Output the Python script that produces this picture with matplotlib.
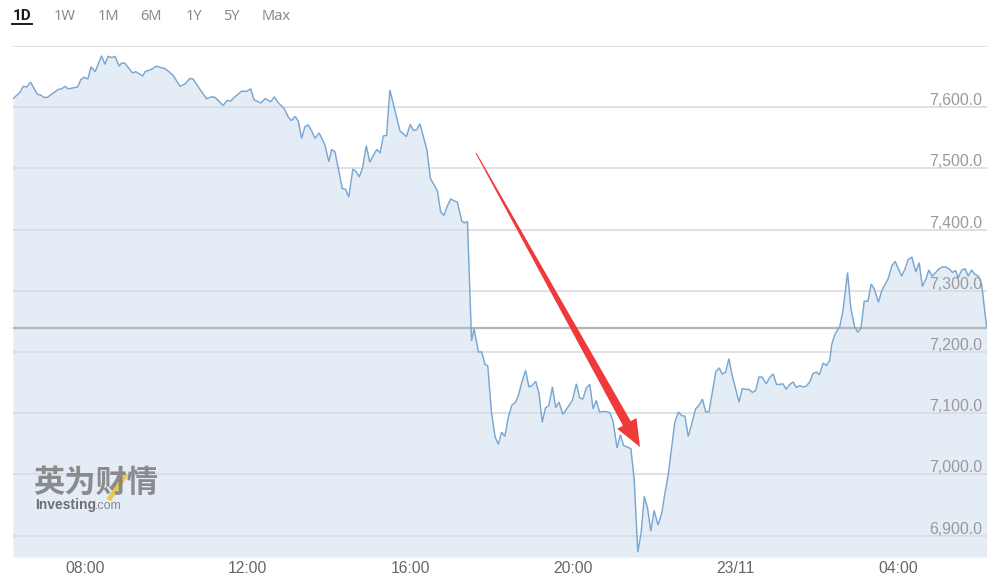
import numpy as np
import matplotlib
matplotlib.use("Agg")
import matplotlib.pyplot as plt
from matplotlib.patches import Polygon
from matplotlib.lines import Line2D

# ---- data (time in hours since 22/11 00:00, price) ----
times = [6.23, 6.40, 6.48, 6.57, 6.66, 6.83, 6.91, 6.99, 7.07, 7.22, 7.34, 7.43, 7.51, 7.59, 7.67,
         7.82, 7.90, 7.98, 8.07, 8.15, 8.25, 8.41, 8.49, 8.57, 8.66, 8.74, 8.84, 8.90, 8.98, 9.17,
         9.25, 9.42, 9.48, 9.64, 9.75, 9.85, 9.97, 10.05, 10.17, 10.34, 10.46, 10.58, 10.66, 10.83,
         10.99, 11.12, 11.20, 11.40, 11.50, 11.58, 11.69, 11.85, 11.98, 12.08, 12.16, 12.33, 12.43,
         12.57, 12.66, 12.76, 12.90, 13.00, 13.08, 13.17, 13.25, 13.33, 13.41, 13.49, 13.58, 13.66,
         13.76, 13.90, 14.00, 14.07, 14.15, 14.23, 14.33, 14.41, 14.49, 14.59, 14.67, 14.75, 14.83,
         14.92, 15.01, 15.09, 15.18, 15.26, 15.34, 15.42, 15.50, 15.58, 15.75, 15.91, 16.00, 16.08,
         16.16, 16.24, 16.41, 16.50, 16.59, 16.67, 16.75, 16.83, 16.91, 17.00, 17.08, 17.16, 17.27,
         17.33, 17.41, 17.51, 17.57, 17.68, 17.76, 17.84, 17.91, 18.00, 18.09, 18.17, 18.25, 18.33,
         18.41, 18.50, 18.58, 18.66, 18.74, 18.84, 18.92, 19.00, 19.09, 19.17, 19.25, 19.33, 19.41,
         19.50, 19.58, 19.66, 19.76, 19.84, 19.99, 20.09, 20.17, 20.25, 20.33, 20.42, 20.50, 20.58,
         20.66, 20.79, 20.91, 20.99, 21.09, 21.17, 21.25, 21.33, 21.43, 21.51, 21.60, 21.68, 21.76,
         21.84, 21.92, 22.00, 22.10, 22.19, 22.27, 22.35, 22.51, 22.60, 22.68, 22.76, 22.84, 22.92,
         23.02, 23.10, 23.19, 23.27, 23.35, 23.43, 23.52, 23.60, 23.68, 23.76, 23.84, 23.92, 24.01,
         24.09, 24.17, 24.25, 24.33, 24.42, 24.50, 24.58, 24.66, 24.76, 24.84, 24.93, 25.01, 25.09,
         25.17, 25.25, 25.34, 25.42, 25.50, 25.58, 25.66, 25.74, 25.83, 25.91, 25.99, 26.07, 26.16,
         26.24, 26.32, 26.37, 26.45, 26.57, 26.65, 26.76, 26.84, 26.93, 27.01, 27.09, 27.17, 27.26,
         27.34, 27.42, 27.52, 27.60, 27.76, 27.85, 27.93, 28.09, 28.17, 28.25, 28.34, 28.44, 28.52,
         28.60, 28.68, 28.76, 28.84, 28.93, 29.01, 29.09, 29.17, 29.26, 29.34, 29.42, 29.48, 29.57,
         29.65, 29.73, 29.81, 29.89, 29.98, 30.06, 30.12, 30.18]
prices = [7614, 7624, 7634, 7633, 7641, 7621, 7620, 7616, 7616, 7623, 7629, 7630, 7634, 7630, 7631,
          7633, 7645, 7649, 7646, 7666, 7658, 7684, 7670, 7683, 7681, 7683, 7667, 7672, 7672, 7656,
          7658, 7651, 7658, 7662, 7667, 7665, 7663, 7659, 7652, 7634, 7638, 7647, 7646, 7629,
          7614, 7617, 7616, 7603, 7611, 7610, 7617, 7626, 7626, 7630, 7612, 7607, 7614,
          7609, 7617, 7607, 7598, 7584, 7578, 7585, 7577, 7549, 7568, 7571, 7561, 7549,
          7558, 7539, 7511, 7531, 7527, 7501, 7467, 7466, 7453, 7499, 7495, 7486, 7501,
          7537, 7510, 7521, 7531, 7525, 7553, 7554, 7628, 7607, 7561, 7552, 7572, 7562,
          7563, 7573, 7531, 7483, 7473, 7463, 7429, 7423, 7438, 7450, 7447, 7445, 7414,
          7411, 7413, 7218, 7238, 7200, 7200, 7180, 7177, 7101, 7061, 7049, 7069, 7062,
          7092, 7113, 7117, 7128, 7149, 7170, 7143, 7145, 7152, 7132, 7085, 7109, 7112,
          7143, 7109, 7118, 7098, 7106, 7121, 7148, 7125, 7123, 7141, 7147, 7107, 7121,
          7102, 7103, 7101, 7087, 7043, 7065, 7047, 7045, 7042, 6992, 6873, 6904, 6964,
          6945, 6907, 6941, 6917, 6937, 6970, 7000, 7085, 7102, 7096, 7095, 7062, 7081,
          7107, 7112, 7123, 7102, 7102, 7133, 7168, 7174, 7164, 7167, 7189, 7162, 7139,
          7118, 7140, 7139, 7139, 7134, 7137, 7159, 7159, 7148, 7158, 7164, 7147, 7147,
          7148, 7139, 7147, 7151, 7142, 7145, 7143, 7144, 7151, 7165, 7167, 7163, 7182,
          7178, 7186, 7212, 7229, 7242, 7269, 7330, 7272, 7242, 7232, 7239, 7283, 7283,
          7311, 7303, 7281, 7300, 7320, 7341, 7348, 7324, 7335, 7351, 7355, 7331, 7346,
          7307, 7318, 7334, 7324, 7330, 7336, 7339, 7339, 7336, 7330, 7333, 7321, 7334,
          7336, 7324, 7334, 7327, 7324, 7310, 7275, 7242]
prev_close = 7240
y_ticks = [6900, 7000, 7100, 7200, 7300, 7400, 7500, 7600, 7700]
x_ticks = [8, 12, 16, 20, 24, 28]
x_labels = ["08:00", "12:00", "16:00", "20:00", "23/11", "04:00"]
range_buttons = ["1D", "1W", "1M", "6M", "1Y", "5Y", "Max"]

W, H = 1001, 579
fig = plt.figure(figsize=(W / 100, H / 100), dpi=100)
fig.patch.set_facecolor("white")


def fx(px):
    return px / W


def fy(py):
    return 1 - py / H


ax = fig.add_axes([fx(13), fy(557), (987 - 13) / W, (557 - 46) / H])
ax.set_xlim(6.23, 30.19)
ax.set_ylim(6865, 7700)
for s in ax.spines.values():
    s.set_visible(False)

line_color = "#7aa7d2"
fill_color = "#e4ecf5"
ax.fill_between(times, prices, 6865, color=fill_color, lw=0, zorder=1)
for yv in y_ticks:
    ax.axhline(yv, color="#d8dce1", lw=1.2, zorder=2)
ax.axhline(prev_close, color="#b5b5b5", lw=1.6, zorder=2.5)
ax.plot(times, prices, color=line_color, lw=1.05, zorder=3, solid_joinstyle="miter")

ax.set_yticks([])
ax.set_xticks(x_ticks)
ax.set_xticklabels(x_labels, fontfamily="Liberation Sans", fontsize=11.3, color="#666666")
ax.tick_params(axis="x", length=0, pad=3)

for yv in y_ticks[:-1]:
    ax.annotate(f"{yv:,.1f}", xy=(1, yv), xycoords=("axes fraction", "data"),
                xytext=(-5, 2), textcoords="offset pixels", ha="right", va="baseline",
                fontfamily="Liberation Sans", fontsize=11.4, color="#9a9a9a", zorder=5)

# ---- range buttons ----
btn_x = [22, 65, 108, 151, 194, 231, 276]
for lab, bx in zip(range_buttons, btn_x):
    if lab == "1D":
        fig.text(fx(bx), fy(16), lab, ha="center", va="center", fontsize=11,
                 fontfamily="Roboto", fontweight="bold", color="#1a1a1a")
    else:
        fig.text(fx(bx), fy(16), lab, ha="center", va="center", fontsize=10.5,
                 fontfamily="Noto Sans", color="#8a8a8a")
fig.add_artist(Line2D([fx(12), fx(32)], [fy(23.5), fy(23.5)], color="#1a1a1a", lw=1.4))

# ---- watermark ----
fig.text(fx(33), fy(483), "英为财情", ha="left", va="center", fontsize=22.5,
         fontfamily="Noto Sans CJK SC", fontweight="bold", color="#7a7a7a", alpha=0.85)
fig.add_artist(Line2D([fx(110), fx(125)], [fy(498), fy(476)], color="#f0c040", lw=3.5, alpha=0.9))
fig.text(fx(35), fy(505), "Investing", ha="left", va="center", fontsize=10,
         fontfamily="Liberation Sans", fontweight="bold", color="#6f6f6f")
fig.text(fx(95), fy(506), ".com", ha="left", va="center", fontsize=9,
         fontfamily="Liberation Sans", color="#8a8a8a")

# ---- red annotation arrow (pixel geometry) ----
tail = np.array([476.0, 153.0])
tip = np.array([640.0, 447.0])
d = tip - tail
u = d / np.linalg.norm(d)
n = np.array([u[1], -u[0]])
base = tip - 27 * u
pts = [tail + 0.5 * n, base + 4.5 * n, base + 11 * n, tip,
       base - 11 * n, base - 4.5 * n, tail - 0.5 * n]
fig.add_artist(Polygon([(fx(p[0]), fy(p[1])) for p in pts], closed=True,
                       transform=fig.transFigure, facecolor="#f03a3a", edgecolor="none", zorder=10))

fig.savefig("out.png", dpi=100)
